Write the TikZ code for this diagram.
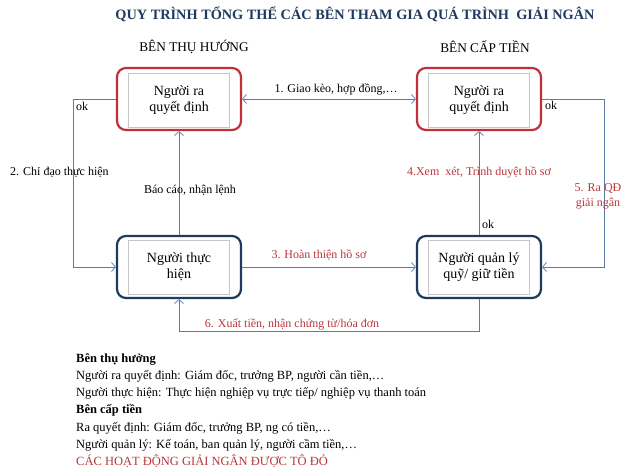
\documentclass[tikz,border=0pt]{standalone}
\usepackage{fontspec}
\setmainfont{Liberation Serif}
\usetikzlibrary{arrows.meta}
\definecolor{titleblue}{HTML}{1F3A5F}
\definecolor{boxred}{HTML}{C0303A}
\definecolor{boxnavy}{HTML}{1F3A5A}
\definecolor{connblue}{HTML}{5A7CA8}
\definecolor{labred}{HTML}{B8383C}
\tikzset{
  outerbox/.style={draw, rounded corners=9pt, line width=2.2pt, minimum width=124pt, minimum height=62pt},
  redbox/.style={outerbox, draw=boxred},
  navybox/.style={outerbox, draw=boxnavy},
  innerbox/.style={draw=gray!45, line width=0.5pt, minimum width=101pt, minimum height=54pt, align=center, font=\fontsize{14}{16}\selectfont},
  conn/.style={draw=connblue, line width=0.7pt},
  tip/.style={-{Straight Barb[length=4pt,width=9pt]}},
  lab/.style={font=\fontsize{12}{14}\selectfont, inner sep=0pt},
  redlab/.style={lab, text=labred},
  leg/.style={font=\fontsize{12.5}{14}\selectfont, anchor=base west, inner sep=0pt}
}
\begin{document}
\begin{tikzpicture}[x=1pt,y=-1pt]
\useasboundingbox (0,0) rectangle (638,468);
\fill[white] (0,0) rectangle (638,468);

\node[font=\bfseries\fontsize{14.3}{16}\selectfont, text=titleblue] (title) at (355,14) {QUY TRÌNH TỔNG THỂ CÁC BÊN THAM GIA QUÁ TRÌNH\ \ GIẢI NGÂN};
\node[font=\fontsize{13.3}{15}\selectfont] (hl) at (194,47) {BÊN THỤ HƯỚNG};
\node[font=\fontsize{13.3}{15}\selectfont] (hr) at (485,47) {BÊN CẤP TIỀN};

% boxes
\node[redbox] (tl) at (179,99) {};
\node[innerbox] (tli) at (179,100) {Người ra\\quyết định};
\node[redbox] (tr) at (479,99) {};
\node[innerbox] (tri) at (479,100) {Người ra\\quyết định};
\node[navybox] (bl) at (179,267) {};
\node[innerbox] (bli) at (179,267) {Người thực\\hiện};
\node[navybox] (br) at (479,267) {};
\node[innerbox] (bri) at (479,267) {Người quản lý\\quỹ/ giữ tiền};

% helper coordinates
\coordinate (lx) at (73,99);
\coordinate (rx) at (604,99);
\coordinate (by) at (479,331);

% 1
\draw[conn, {Straight Barb[length=4pt,width=9pt]}-{Straight Barb[length=4pt,width=9pt]}] (tl.east) -- (tr.west);
\node[lab] (l1) at (336,89) {1. Giao kèo, hợp đồng,…};
% 2
\draw[conn, tip] (tl.west) -- (lx) |- (bl.west);
\node[lab, anchor=west] (ok1) at (76,106) {ok};
\node[lab, anchor=west] (l2) at (10,172) {2. Chỉ đạo thực hiện};
% report
\draw[conn, tip] (bl.north) -- (tl.south);
\node[lab] (lr) at (190,190) {Báo cáo, nhận lệnh};
% 3
\draw[conn, tip] (bl.east) -- (br.west);
\node[redlab] (l3) at (319,255) {3. Hoàn thiện hồ sơ};
% 4
\draw[conn, tip] (br.north) -- (tr.south);
\node[redlab] (l4) at (479,172) {4.Xem\ \ xét, Trình duyệt hồ sơ};
\node[lab, anchor=west] (ok2) at (482,224) {ok};
% 5
\draw[conn, tip] (tr.east) -- (rx) |- (br.east);
\node[lab, anchor=west] (ok3) at (545,105) {ok};
\node[redlab, align=center, font=\fontsize{12}{15}\selectfont] (l5) at (598,196) {5. Ra QĐ\\giải ngân};
% 6
\draw[conn, tip] (br.south) -- (by) -| (bl.south);
\node[redlab] (l6) at (292,324) {6. Xuất tiền, nhận chứng từ/hóa đơn};

% legend
\node[leg, font=\bfseries\fontsize{12.5}{14}\selectfont] (g1) at (76,362) {Bên thụ hưởng};
\node[leg] (g2) at (76,379) {Người ra quyết định: Giám đốc, trưởng BP, người cần tiền,…};
\node[leg] (g3) at (76,396) {Người thực hiện: Thực hiện nghiệp vụ trực tiếp/ nghiệp vụ thanh toán};
\node[leg, font=\bfseries\fontsize{12.5}{14}\selectfont] (g4) at (76,413) {Bên cấp tiền};
\node[leg] (g5) at (76,431) {Ra quyết định: Giám đốc, trưởng BP, ng có tiền,…};
\node[leg] (g6) at (76,448) {Người quản lý: Kế toán, ban quản lý, người cầm tiền,…};
\node[leg, text=labred] (g7) at (76,465) {CÁC HOẠT ĐỘNG GIẢI NGÂN ĐƯỢC TÔ ĐỎ};
\end{tikzpicture}
\end{document}
